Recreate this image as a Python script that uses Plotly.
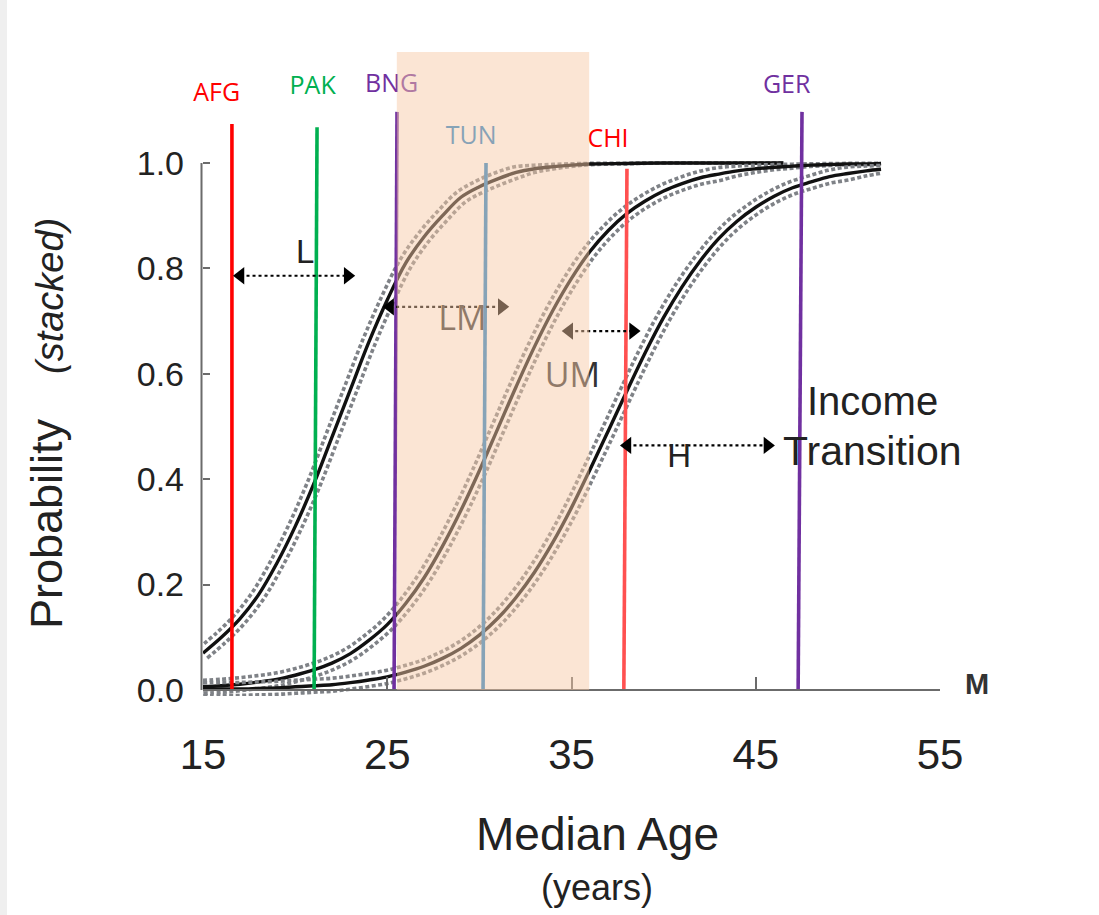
import numpy as np
import plotly.graph_objects as go

# ---------------- data ----------------
# cumulative (stacked) probability curves vs. median age
age_L = [15, 16, 17, 18, 19, 20, 21, 22, 23, 24, 25, 26, 27, 28, 29, 30, 31, 32, 33, 34, 35, 36, 38, 40, 43, 46.5]
prob_L = [0.07, 0.10, 0.135, 0.18, 0.24, 0.31, 0.39, 0.48, 0.57, 0.66, 0.74, 0.81, 0.86, 0.90, 0.935, 0.955,
          0.97, 0.982, 0.989, 0.993, 0.996, 0.998, 0.999, 1.0, 1.0, 1.0]

age_LM = [15, 16, 17, 18, 19, 20, 21, 22, 23, 24, 25, 26, 27, 28, 29, 30, 31, 32, 33, 34, 35, 36, 37, 38, 39,
          40, 41, 42, 43, 44, 45, 46, 47, 48, 49, 50, 51, 51.8]
prob_LM = [0.006, 0.008, 0.011, 0.015, 0.020, 0.028, 0.038, 0.051, 0.069, 0.094, 0.124, 0.164, 0.213, 0.273,
           0.341, 0.416, 0.496, 0.576, 0.652, 0.721, 0.781, 0.832, 0.872, 0.904, 0.928, 0.947, 0.961, 0.972,
           0.979, 0.985, 0.989, 0.992, 0.994, 0.996, 0.997, 0.998, 0.998, 0.999]

age_UM = [15, 16, 17, 18, 19, 20, 21, 22, 23, 24, 25, 26, 27, 28, 29, 30, 31, 32, 33, 34, 35, 36, 37, 38, 39,
          40, 41, 42, 43, 44, 45, 46, 47, 48, 49, 50, 51, 51.8]
prob_UM = [0.001, 0.002, 0.002, 0.003, 0.004, 0.006, 0.008, 0.010, 0.014, 0.019, 0.025, 0.034, 0.045, 0.060,
           0.079, 0.104, 0.136, 0.176, 0.224, 0.281, 0.346, 0.418, 0.492, 0.567, 0.640, 0.707, 0.765, 0.815,
           0.857, 0.890, 0.916, 0.937, 0.953, 0.964, 0.974, 0.980, 0.985, 0.988]

# countries: median age (line drawn slightly slanted as in the reference)
country_names = ["AFG", "PAK", "BNG", "TUN", "CHI", "GER"]
country_age_bottom = [16.57, 21.03, 25.37, 30.20, 37.84, 47.30]
country_age_top = [16.57, 21.19, 25.53, 30.36, 38.01, 47.51]
country_line_top = [1.074, 1.068, 1.097, 1.0, 0.989, 1.097]
country_colors = ["rgb(255,0,0)", "rgb(0,176,80)", "rgb(112,48,160)", "rgb(31,128,200)",
                  "rgb(255,80,80)", "rgb(112,48,160)"]
country_label_colors = ["rgb(255,0,0)", "rgb(0,176,80)", "rgb(112,48,160)", "rgb(31,128,200)",
                        "rgb(255,0,0)", "rgb(112,48,160)"]

# income-group spans (arrows)
group_names = ["L", "LM", "UM", "H"]
group_age_lo = [16.63, 24.75, 34.47, 37.63]
group_age_hi = [23.26, 31.62, 38.75, 46.04]
group_level = [0.786, 0.727, 0.681, 0.464]
group_colors = ["#000000", "#000000", "#000000", "#000000"]

# income-transition window
transition_age = [25.52, 35.96]

x_ticks = [15, 25, 35, 45, 55]
y_ticks = [0.0, 0.2, 0.4, 0.6, 0.8, 1.0]
y_ticktext = ["0.0", "0.2", "0.4", "0.6", "0.8", "1.0"]

# ---------------- layout geometry ----------------
W, H = 1099, 915
ML, MR, MT, MB = 203, 159, 52, 219
PW, PH = W - ML - MR, H - MT - MB
XMIN, XMAX = 15, 55
PX_X = PW / (XMAX - XMIN)
PX_Y = 527.0
YMAX = 1.2106
YMIN = YMAX - PH / PX_Y


def pxx(px):
    return (px - ML) / PW


def pxy(py):
    return (H - MB - py) / PH


def band(xs, ys, d_px, sign):
    xs = np.asarray(xs, float)
    ys = np.asarray(ys, float)
    X, Y = xs * PX_X, ys * PX_Y
    dX, dY = np.gradient(X), np.gradient(Y)
    n = np.hypot(dX, dY)
    nx, ny = -dY / n, dX / n
    taper = np.clip((1 - ys) / 0.02, 0, 1)
    d = d_px * taper
    return (X + sign * d * nx) / PX_X, (Y + sign * d * ny) / PX_Y


fig = go.Figure()

BAND_COLOR = "#7f8287"
for xs, ys in [(age_L, prob_L), (age_LM, prob_LM), (age_UM, prob_UM)]:
    for sgn in (-1, 1):
        bx, by = band(xs, ys, 6.5, sgn)
        fig.add_trace(go.Scatter(x=bx, y=by, mode="lines", line=dict(color=BAND_COLOR, width=3.6,
                                 dash="4px,2.5px", shape="spline", smoothing=1.0), hoverinfo="skip"))
    fig.add_trace(go.Scatter(x=xs, y=ys, mode="lines", line=dict(color="#111111", width=3.4,
                             shape="spline", smoothing=1.0)))

# country lines
for i, name in enumerate(country_names):
    fig.add_trace(go.Scatter(x=[country_age_bottom[i], country_age_top[i]], y=[0.0, country_line_top[i]],
                             mode="lines", line=dict(color=country_colors[i], width=3.6), name=name))

# arrows
HEAD = 15
inset = (HEAD / 2) / PX_X
for i, g in enumerate(group_names):
    lo, hi, lv = group_age_lo[i], group_age_hi[i], group_level[i]
    fig.add_trace(go.Scatter(x=[lo + inset, hi - inset], y=[lv, lv], mode="lines",
                             line=dict(color=group_colors[i], width=2.2, dash="dot")))
    fig.add_trace(go.Scatter(x=[lo + inset, hi - inset], y=[lv, lv], mode="markers",
                             marker=dict(symbol=["triangle-left", "triangle-right"], size=HEAD,
                                         color=group_colors[i], line=dict(width=0))))

# texts living in the trace layer (so the shaded window tints them)
label_pos_x = [15.74, 20.95, 25.24, 29.55, 36.98, 46.68]
label_pos_y = [1.129, 1.142, 1.146, 1.047, 1.042, 1.145]
fig.add_trace(go.Scatter(x=label_pos_x, y=label_pos_y, mode="text", text=country_names, cliponaxis=False,
                         textfont=dict(color=country_label_colors, size=25, family="Open Sans")))
fig.add_trace(go.Scatter(x=[29.08, 35.05], y=[0.700, 0.592], mode="text", text=["LM", "UM"], cliponaxis=False,
                         textfont=dict(color="#333333", size=34, family="Open Sans")))
fig.add_trace(go.Scatter(x=[20.55, 40.85], y=[0.826, 0.438], mode="text", text=["L", "H"], cliponaxis=False,
                         textfont=dict(color="#222222", size=33, family="Liberation Sans")))

shapes = [
    dict(type="rect", xref="x", yref="y", x0=transition_age[0], x1=transition_age[1], y0=0, y1=YMAX,
         fillcolor="rgb(247,201,165)", opacity=0.48, line=dict(width=0), layer="above"),
    dict(type="line", xref="paper", yref="y", x0=pxx(201.5), x1=pxx(201.5), y0=0, y1=1.0,
         line=dict(color="#6b6b6b", width=2), layer="above"),
    dict(type="rect", xref="paper", yref="paper", x0=pxx(0), x1=pxx(7), y0=pxy(H), y1=pxy(0),
         fillcolor="#efefef", line=dict(width=0), layer="below"),
]

TXT = "#222222"
annotations = [
    dict(text="Median Age", x=pxx(597), y=pxy(834), xref="paper", yref="paper", showarrow=False,
         xanchor="center", yanchor="middle", font=dict(size=46, family="Liberation Sans", color=TXT)),
    dict(text="(years)", x=pxx(597), y=pxy(887), xref="paper", yref="paper", showarrow=False,
         xanchor="center", yanchor="middle", font=dict(size=36, family="Liberation Sans", color=TXT)),
    dict(text="Probability", x=pxx(46), y=pxy(524), xref="paper", yref="paper", showarrow=False,
         textangle=-90, xanchor="center", yanchor="middle",
         font=dict(size=45, family="Liberation Sans", color=TXT)),
    dict(text="<i>(stacked)</i>", x=pxx(50), y=pxy(296), xref="paper", yref="paper", showarrow=False,
         textangle=-90, xanchor="center", yanchor="middle",
         font=dict(size=38, family="Liberation Sans", color=TXT)),
    dict(text="Income", x=pxx(872), y=pxy(401), xref="paper", yref="paper", showarrow=False,
         xanchor="center", yanchor="middle", font=dict(size=40, family="Liberation Sans", color=TXT)),
    dict(text="Transition", x=pxx(872), y=pxy(451), xref="paper", yref="paper", showarrow=False,
         xanchor="center", yanchor="middle", font=dict(size=41, family="Liberation Sans", color=TXT)),
    dict(text="<b>M</b>", x=pxx(977), y=pxy(684), xref="paper", yref="paper", showarrow=False,
         xanchor="center", yanchor="middle", font=dict(size=29, family="Liberation Sans", color="#333333")),
]

fig.update_layout(
    width=W, height=H, margin=dict(l=ML, r=MR, t=MT, b=MB, pad=0),
    paper_bgcolor="white", plot_bgcolor="white", showlegend=False,
    shapes=shapes, annotations=annotations,
    xaxis=dict(range=[XMIN, XMAX], anchor="free", position=(0 - YMIN) / (YMAX - YMIN),
               showline=True, linecolor="#6b6b6b", linewidth=2, ticks="inside", ticklen=12, tickwidth=2,
               tickcolor="#6b6b6b", tickvals=x_ticks, showgrid=False, zeroline=False,
               tickfont=dict(size=42, family="Liberation Sans", color=TXT), ticklabelstandoff=28),
    yaxis=dict(range=[YMIN, YMAX], showline=False, ticks="inside", ticklen=7, tickwidth=2,
               tickcolor="#6b6b6b", tickvals=y_ticks, ticktext=y_ticktext, showgrid=False, zeroline=False,
               tickfont=dict(size=34, family="Liberation Sans", color=TXT), ticklabelstandoff=18),
)

fig.write_html("out.html")
